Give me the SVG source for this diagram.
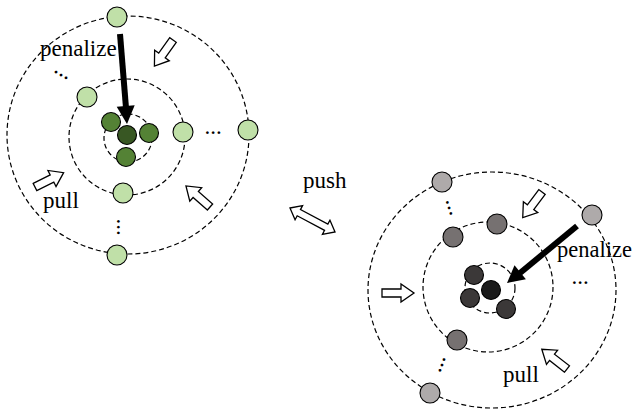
<svg xmlns="http://www.w3.org/2000/svg" width="634" height="416" viewBox="0 0 634 416">
<defs>
<style>
.ring{fill:none;stroke:#000;stroke-width:1.2;stroke-dasharray:5,3}
.n{stroke:#000;stroke-width:1.1}
.g1{fill:#c0e0a8}.g2{fill:#548235}.g3{fill:#385723}
.k1{fill:#aeaaaa}.k2{fill:#767171}.k3{fill:#3b3838}.k4{fill:#1a1a1a}
.blk{fill:#fff;stroke:#000;stroke-width:1.3;stroke-linejoin:miter}
.dots{text-anchor:middle}
</style>
<path id="ba" d="M0,-4 L19,-4 L19,-9 L32,0 L19,9 L19,4 L0,4 Z"/>
</defs>

<g id="rings">
<ellipse class="ring" cx="128" cy="135" rx="121" ry="119"/>
<circle class="ring" cx="127" cy="137" r="58"/>
<circle class="ring" cx="128" cy="138" r="24"/>
<ellipse class="ring" cx="492" cy="290" rx="124" ry="118"/>
<circle class="ring" cx="488" cy="287" r="65"/>
<circle class="ring" cx="490" cy="288" r="25"/>
</g>

<g id="left-cluster">
<g id="L-outer-top"><circle class="n g1" cx="117" cy="17" r="10"/></g>
<g id="L-outer-right"><circle class="n g1" cx="248" cy="130" r="10"/></g>
<g id="L-outer-bottom"><circle class="n g1" cx="117" cy="255" r="10"/></g>
<g id="L-inner-left"><circle class="n g1" cx="87" cy="97" r="10"/></g>
<g id="L-inner-right"><circle class="n g1" cx="183" cy="132" r="10"/></g>
<g id="L-inner-bottom"><circle class="n g1" cx="123" cy="193" r="10"/></g>
<g id="L-c1"><circle class="n g2" cx="111" cy="122" r="9.5"/></g>
<g id="L-c2"><circle class="n g2" cx="149" cy="133" r="9.5"/></g>
<g id="L-c3"><circle class="n g2" cx="126" cy="157" r="9.5"/></g>
<g id="L-anchor"><circle class="n g3" cx="127" cy="135" r="9.5"/></g>
</g>

<g id="right-cluster">
<g id="R-outer-top"><circle class="n k1" cx="442" cy="182" r="10"/></g>
<g id="R-outer-right"><circle class="n k1" cx="592" cy="215" r="10"/></g>
<g id="R-outer-bottom"><circle class="n k1" cx="430" cy="393" r="10"/></g>
<g id="R-inner-1"><circle class="n k2" cx="453" cy="237" r="10"/></g>
<g id="R-inner-2"><circle class="n k2" cx="497" cy="224" r="10"/></g>
<g id="R-inner-3"><circle class="n k2" cx="457" cy="340" r="10"/></g>
<g id="R-c1"><circle class="n k3" cx="474" cy="275" r="9.5"/></g>
<g id="R-c2"><circle class="n k3" cx="470" cy="298" r="9.5"/></g>
<g id="R-c3"><circle class="n k3" cx="506" cy="309" r="9.5"/></g>
<g id="R-anchor"><circle class="n k4" cx="491" cy="290" r="9.5"/></g>
</g>

<g id="connectors">
<line x1="120" y1="34" x2="126" y2="108" stroke="#000" stroke-width="6"/>
<polygon points="127,124 134.7,105.3 116.7,106.7" fill="#000"/>
<line x1="577" y1="226" x2="520" y2="273" stroke="#000" stroke-width="6"/>
<polygon points="507,283 525.9,279.3 514.5,265.3" fill="#000"/>
<use href="#ba" class="blk" transform="translate(173,40) rotate(125.5)"/>
<use href="#ba" class="blk" transform="translate(35,187) rotate(-26.6)"/>
<use href="#ba" class="blk" transform="translate(210,207) rotate(-138.7)"/>
<use href="#ba" class="blk" transform="translate(542,192) rotate(127)"/>
<use href="#ba" class="blk" transform="translate(382,293)"/>
<use href="#ba" class="blk" transform="translate(567,369) rotate(-142)"/>
<path class="blk" transform="translate(290,208) rotate(28)" d="M0,0 L10,-8 L10,-3.5 L41,-3.5 L41,-8 L51,0 L41,8 L41,3.5 L10,3.5 L10,8 Z"/>
</g>

<g id="labels" font-family="'Liberation Serif', 'Times New Roman', 'DejaVu Serif', serif" font-size="23" fill="#000">
<text x="40" y="56">penalize</text>
<text x="43" y="208">pull</text>
<text x="303" y="188">push</text>
<text x="557" y="257" font-size="22.5">penalize</text>
<text x="503" y="382">pull</text>
<text class="dots" transform="translate(61,75) rotate(30)" y="1">...</text>
<text class="dots" x="213" y="134">...</text>
<text class="dots" transform="translate(118,227) rotate(90)" y="1">...</text>
<text class="dots" transform="translate(449,208) rotate(73)" y="1">...</text>
<text class="dots" transform="translate(442,365) rotate(110)" y="1">...</text>
<text class="dots" x="580" y="284">...</text>
</g>
</svg>
